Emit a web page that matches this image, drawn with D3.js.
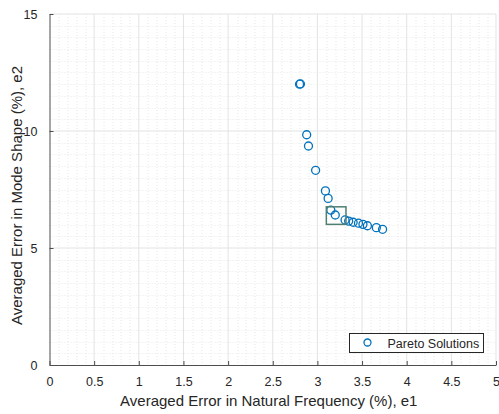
<!DOCTYPE html>
<html>
<head>
<meta charset="utf-8">
<script src="https://cdn.jsdelivr.net/npm/d3@7"></script>
<style>
	body { margin: 0; background: #fff; }
	text { font-family: Arial, "Liberation Sans", sans-serif; fill: #262626; }
	.grid-major { stroke: #e3e3e3; stroke-width: 1; }
	.grid-minor { stroke: #e8e8e8; stroke-width: 1; stroke-dasharray: 1 2; }
	.axis path, .axis line { stroke: #4d4d4d; }
</style>
</head>
<body>
<div id="vis"></div>
<script>

	// Pareto front points, e1 (natural frequency error %) and e2 (mode shape error %)
	var e1 = [2.80, 2.81, 2.88, 2.90, 2.98, 3.09, 3.12, 3.15, 3.20, 3.31, 3.35, 3.40, 3.46, 3.51, 3.56, 3.66, 3.73];
	var e2 = [12.00, 12.01, 9.84, 9.36, 8.32, 7.44, 7.12, 6.62, 6.41, 6.20, 6.15, 6.10, 6.06, 6.01, 5.95, 5.87, 5.80];

	var xTicks = [0, 0.5, 1, 1.5, 2, 2.5, 3, 3.5, 4, 4.5, 5];
	var yTicks = [0, 5, 10, 15];

	// selected compromise solution (box around it)
	var selected = { x0: 3.10, x1: 3.32, y0: 6.01, y1: 6.76 };

	var legendLabel = 'Pareto Solutions';
	var xLabel = 'Averaged Error in Natural Frequency (%), e1';
	var yLabel = 'Averaged Error in Mode Shape (%), e2';

	var W = 499, H = 414;
	var margin = { top: 14, right: 3, bottom: 49, left: 49.5 };
	var dim = { w: W - margin.left - margin.right, h: H - margin.top - margin.bottom };

	var svg = d3.select('#vis').append('svg')
		.attr('width', W)
		.attr('height', H);

	var g = svg.append('g')
		.attr('transform', 'translate(' + margin.left + ',' + margin.top + ')');

	var x = d3.scaleLinear().domain([0, 5]).range([0, dim.w]);
	var y = d3.scaleLinear().domain([0, 15]).range([dim.h, 0]);

	//minor grid
	g.selectAll('.gx-minor')
		.data(d3.range(0, 50).map(function (i) { return i / 10; }).filter(function (v, i) { return i % 5 !== 0; }))
		.enter().append('line')
		.attr('class', 'grid-minor')
		.attr('x1', function (d) { return Math.round(x(d)) + 0.5; })
		.attr('x2', function (d) { return Math.round(x(d)) + 0.5; })
		.attr('y1', 0).attr('y2', dim.h);
	g.selectAll('.gy-minor')
		.data(d3.range(0, 30).map(function (i) { return i / 2; }).filter(function (v, i) { return i % 10 !== 0; }))
		.enter().append('line')
		.attr('class', 'grid-minor')
		.attr('y1', function (d) { return Math.round(y(d)) + 0.5; })
		.attr('y2', function (d) { return Math.round(y(d)) + 0.5; })
		.attr('x1', 0).attr('x2', dim.w);

	//major grid
	g.selectAll('.gx-major')
		.data(xTicks.slice(1))
		.enter().append('line')
		.attr('class', 'grid-major')
		.attr('x1', function (d) { return x(d); })
		.attr('x2', function (d) { return x(d); })
		.attr('y1', 0).attr('y2', dim.h);
	g.selectAll('.gy-major')
		.data(yTicks.slice(1))
		.enter().append('line')
		.attr('class', 'grid-major')
		.attr('y1', function (d) { return y(d); })
		.attr('y2', function (d) { return y(d); })
		.attr('x1', 0).attr('x2', dim.w);

	//axes, ticks pointing in
	g.append('g')
		.attr('class', 'axis')
		.attr('transform', 'translate(0,' + dim.h + ')')
		.call(d3.axisBottom(x).tickValues(xTicks).tickSizeInner(-4).tickSizeOuter(0).tickPadding(12)
			.tickFormat(function (d) { return d3.format('')(d); }));
	g.append('g')
		.attr('class', 'axis')
		.call(d3.axisLeft(y).tickValues(yTicks).tickSizeInner(-4).tickSizeOuter(0).tickPadding(12));

	svg.selectAll('.axis text')
		.style('font-size', '12.5px')
		.style('font-family', 'Arial, "Liberation Sans", sans-serif')
		.attr('fill', '#262626');

	//axis labels
	svg.append('text')
		.attr('x', margin.left + dim.w / 2 - 4)
		.attr('y', 406)
		.attr('text-anchor', 'middle')
		.style('font-size', '15px')
		.text(xLabel);
	svg.append('text')
		.attr('transform', 'translate(22,' + (margin.top + dim.h / 2 + 6) + ') rotate(-90)')
		.attr('text-anchor', 'middle')
		.style('font-size', '15px')
		.text(yLabel);

	//points
	var pts = d3.range(e1.length).map(function (i) { return { x: e1[i], y: e2[i] }; });
	g.selectAll('.pt')
		.data(pts)
		.enter().append('circle')
		.attr('cx', function (d) { return x(d.x); })
		.attr('cy', function (d) { return y(d.y); })
		.attr('r', 4)
		.attr('fill', 'none')
		.attr('stroke', '#0072bd')
		.attr('stroke-width', 1.3);

	//selected solution box
	g.append('rect')
		.attr('x', x(selected.x0))
		.attr('y', y(selected.y1))
		.attr('width', x(selected.x1) - x(selected.x0))
		.attr('height', y(selected.y0) - y(selected.y1))
		.attr('fill', 'none')
		.attr('stroke', '#4f7f72')
		.attr('stroke-width', 1.5);

	//legend
	var lg = svg.append('g').attr('transform', 'translate(349.5,333.5)');
	lg.append('rect')
		.attr('width', 134)
		.attr('height', 19)
		.attr('fill', '#fff')
		.attr('stroke', '#262626')
		.attr('stroke-width', 1);
	lg.append('circle')
		.attr('cx', 18)
		.attr('cy', 9)
		.attr('r', 3.5)
		.attr('fill', 'none')
		.attr('stroke', '#0072bd')
		.attr('stroke-width', 1.3);
	lg.append('text')
		.attr('x', 38)
		.attr('y', 14)
		.style('font-size', '12.5px')
		.text(legendLabel);

</script>
</body>
</html>
